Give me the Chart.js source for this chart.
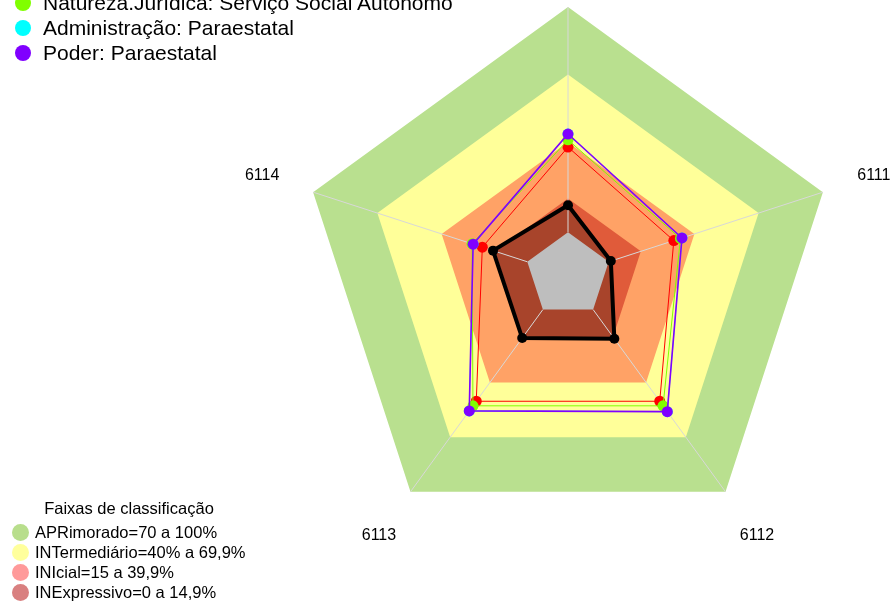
<!DOCTYPE html>
<html>
<head>
<meta charset="utf-8">
<script src="https://cdn.jsdelivr.net/npm/chart.js@4.4.0/dist/chart.umd.min.js"></script>
<style>
    body { margin: 0; background: #fff; font-family: "Liberation Sans", Arial, sans-serif; }
    #wrap { position: relative; width: 894px; height: 603px; overflow: hidden; }
    #radar { position: absolute; left: 0; top: 0; }
    .legend { position: absolute; color: #000; }
    .legend .row { display: flex; align-items: center; white-space: nowrap; }
    .legend .dot { border-radius: 50%; flex: none; }
    #seriesLegend { left: 15px; top: -10px; font-size: 21px; }
    #seriesLegend .row { height: 25px; }
    #seriesLegend .dot { width: 16px; height: 16px; margin-right: 12px; }
    #bandLegend { left: 12px; top: 496px; font-size: 16.5px; }
    #bandLegend .title { width: 234px; text-align: center; height: 24px; line-height: 24px; margin-bottom: 2px; }
    #bandLegend .row { height: 20px; }
    #bandLegend .dot { width: 17px; height: 17px; margin-right: 6px; }
</style>
</head>
<body>
<div id="wrap">
    <canvas id="radar" width="894" height="603"></canvas>
    <div id="seriesLegend" class="legend"></div>
    <div id="bandLegend" class="legend"><div class="title">Faixas de classificação</div></div>
</div>
<script>
// eixos no sentido horário a partir do topo
const axisLabels = ["6115", "6111", "6112", "6113", "6114"];

const entidadeValues = [12, 1, 16, 15.6, 16];
const esferaValues = [37.8, 30.4, 50.3, 50.3, 21];
const naturezaValues = [41, 33.5, 52.8, 52.8, 25.8];
const administracaoValues = [43.6, 34.2, 56, 55.6, 25.3];
const poderValues = [43.6, 34.2, 56, 55.6, 25.3];

// limites superiores das faixas de classificação
const faixaLimits = [100, 70, 40, 15];
const faixaLabels = ["APRimorado=70 a 100%", "INTermediário=40% a 69,9%", "INIcial=15 a 39,9%", "INExpressivo=0 a 14,9%"];

const scaleMin = -19;
const scaleMax = 100;

const faixaFill = ["#B9E08F", "#FFFF99", "#FFA266", "#E05B3A"];
const faixaDot = ["#B8DE8C", "#FFFF9C", "#FF9A9A", "#D98080"];

const legendSeries = [
    { label: "Natureza.Jurídica: Serviço Social Autônomo", color: "#80FF00" },
    { label: "Administração: Paraestatal", color: "#00FFFF" },
    { label: "Poder: Paraestatal", color: "#8000FF" }
];

function lineSet(label, values, color, width) {
    return {
        label: label,
        data: values,
        borderColor: color,
        borderWidth: width || 1,
        pointRadius: 5.5,
        pointBorderWidth: 0,
        pointBackgroundColor: color,
        fill: false
    };
}

function bandSet(value, color) {
    return {
        data: axisLabels.map(() => value),
        borderColor: "rgba(0,0,0,0)",
        borderWidth: 0,
        pointRadius: 0,
        backgroundColor: color,
        fill: "start"
    };
}

// o primeiro dataset fica por cima
const datasets = [
    bandSet(0, "#BEBEBE"),
    {
        label: "Entidade",
        data: entidadeValues,
        borderColor: "#000",
        borderWidth: 4,
        pointRadius: 5,
        pointBorderWidth: 0,
        pointBackgroundColor: "#000",
        backgroundColor: "rgba(0,0,0,0.25)",
        fill: "start"
    },
    lineSet("Poder", poderValues, "#8000FF", 1.6),
    lineSet("Natureza", naturezaValues, "#80FF00"),
    lineSet("Administração", administracaoValues, "#00FFFF", 0.8),
    lineSet("Esfera", esferaValues, "#FF0000")
];
for (let i = faixaLimits.length - 1; i >= 0; i--) {
    datasets.push(bandSet(faixaLimits[i], faixaFill[i]));
}

const spokesAndLabels = {
    id: "spokesAndLabels",
    beforeDatasetsDraw(chart) {
        const r = chart.scales.r;
        const ctx = chart.ctx;
        ctx.save();
        ctx.strokeStyle = "#D8D8D8";
        ctx.lineWidth = 1;
        axisLabels.forEach((_, i) => {
            const a = r.getPointPositionForValue(i, 0);
            const b = r.getPointPositionForValue(i, scaleMax);
            ctx.beginPath();
            ctx.moveTo(a.x, a.y);
            ctx.lineTo(b.x, b.y);
            ctx.stroke();
        });
        ctx.restore();
    },
    afterDraw(chart) {
        const r = chart.scales.r;
        const ctx = chart.ctx;
        ctx.save();
        ctx.fillStyle = "#000";
        ctx.font = '16px "Liberation Sans", Arial, sans-serif';
        ctx.textAlign = "center";
        ctx.textBaseline = "middle";
        axisLabels.forEach((label, i) => {
            const p = r.getPointPosition(i, r.drawingArea * 1.2);
            ctx.fillText(label, p.x, p.y);
        });
        ctx.restore();
    }
};

new Chart(document.getElementById("radar"), {
    type: "radar",
    data: { labels: axisLabels, datasets: datasets },
    options: {
        responsive: false,
        animation: false,
        devicePixelRatio: 1,
        events: [],
        elements: { line: { tension: 0 } },
        layout: { padding: { left: 300, right: 58, top: 7, bottom: 60 } },
        scales: {
            r: {
                min: scaleMin,
                max: scaleMax,
                ticks: { display: false },
                grid: { display: false },
                angleLines: { display: false },
                pointLabels: { display: false }
            }
        },
        plugins: {
            legend: { display: false },
            tooltip: { enabled: false },
            filler: { drawTime: "beforeDatasetsDraw" }
        }
    },
    plugins: [spokesAndLabels]
});

const seriesLegend = document.getElementById("seriesLegend");
legendSeries.forEach(s => {
    seriesLegend.innerHTML += `<div class="row"><span class="dot" style="background:${s.color}"></span>${s.label}</div>`;
});

const bandLegend = document.getElementById("bandLegend");
faixaLabels.forEach((label, i) => {
    bandLegend.innerHTML += `<div class="row"><span class="dot" style="background:${faixaDot[i]}"></span>${label}</div>`;
});
</script>
</body>
</html>
